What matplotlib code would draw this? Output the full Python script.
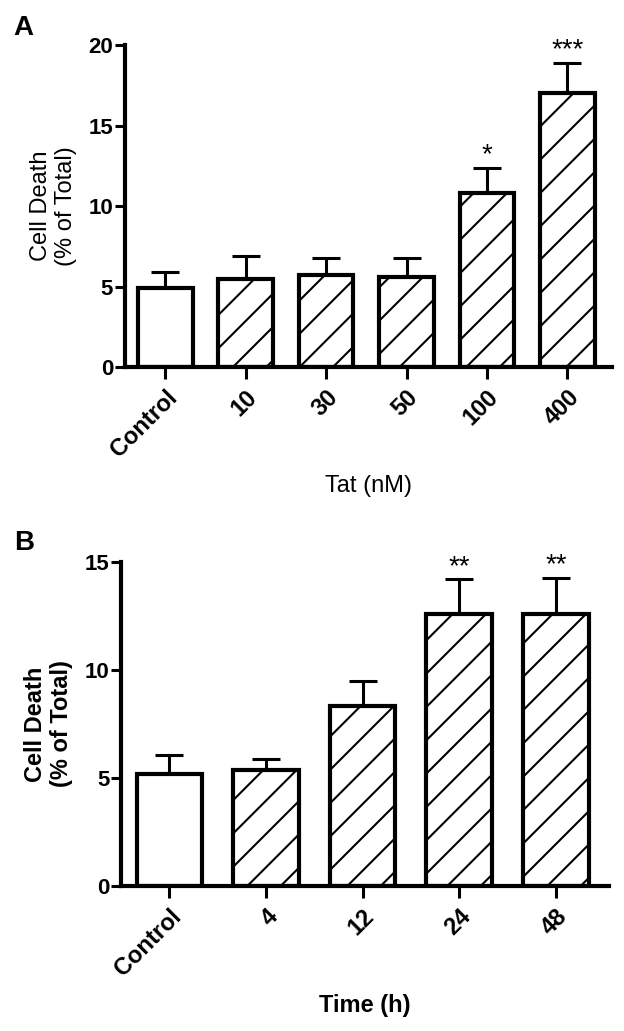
import matplotlib
matplotlib.use('Agg')
import matplotlib.pyplot as plt

plt.rcParams['font.family'] = ['Liberation Sans', 'DejaVu Sans']
plt.rcParams['hatch.linewidth'] = 1.5

# panel A: Tat dose
dose_labels = ['Control', '10', '30', '50', '100', '400']
dose_mean = [4.9, 5.45, 5.7, 5.6, 10.8, 17.0]
dose_err = [1.0, 1.45, 1.05, 1.15, 1.55, 1.9]
dose_stars = ['', '', '', '', '*', '***']

# panel B: time course
time_labels = ['Control', '4', '12', '24', '48']
time_mean = [5.2, 5.35, 8.35, 12.6, 12.6]
time_err = [0.85, 0.55, 1.15, 1.6, 1.65]
time_stars = ['', '', '', '**', '**']


def bar_panel(ax, labels, means, errs, stars, ymax, yticks, xlabel, bold):
    x = list(range(len(labels)))
    for i in x:
        ax.bar(i, means[i], width=0.68, color='white', edgecolor='black',
               linewidth=3, hatch='' if i == 0 else '/', zorder=2)
    ax.errorbar(x, means, yerr=[[0] * len(x), errs], fmt='none', ecolor='black',
                elinewidth=2.2, capsize=10, capthick=2.2, zorder=1)
    for i, s in enumerate(stars):
        if s:
            ax.annotate(s, (i, means[i] + errs[i]), xytext=(0, 4), textcoords='offset points',
                        ha='center', va='baseline', fontsize=20, annotation_clip=False)
    ax.set_xlim(-0.5, len(labels) - 0.45)
    ax.set_ylim(0, ymax)
    ax.set_yticks(yticks)
    ax.set_xticks(x)
    ax.set_xticklabels(labels, rotation=45, ha='right', rotation_mode='anchor',
                       fontsize=17, fontweight='bold')
    for t in ax.get_yticklabels():
        t.set_fontsize(16)
        t.set_fontweight('bold')
    ax.tick_params(axis='y', length=7, width=2.2, pad=1.5)
    ax.tick_params(axis='x', length=8.5, width=2.2, pad=5)
    for sp in ['top', 'right']:
        ax.spines[sp].set_visible(False)
    for sp in ['left', 'bottom']:
        ax.spines[sp].set_linewidth(3)
    w = 'bold' if bold else 'normal'
    ax.set_ylabel('Cell Death\n(% of Total)', fontsize=17, fontweight=w, labelpad=8)
    ax.set_xlabel(xlabel, fontsize=17, fontweight=w, labelpad=10)


fig = plt.figure(figsize=(6.24, 10.31), dpi=100)
ax1 = fig.add_axes([0.2003, 0.644, 0.780, 0.3123])
ax2 = fig.add_axes([0.194, 0.1406, 0.782, 0.3143])

bar_panel(ax1, dose_labels, dose_mean, dose_err, dose_stars, 20, [0, 5, 10, 15, 20],
          'Tat (nM)', False)
bar_panel(ax2, time_labels, time_mean, time_err, time_stars, 15, [0, 5, 10, 15],
          'Time (h)', True)

fig.text(13 / 624, 1 - 35 / 1031, 'A', fontsize=20, fontweight='bold', va='baseline')
fig.text(14 / 624, 1 - 550 / 1031, 'B', fontsize=20, fontweight='bold', va='baseline')

fig.savefig('out.png', dpi=100)
